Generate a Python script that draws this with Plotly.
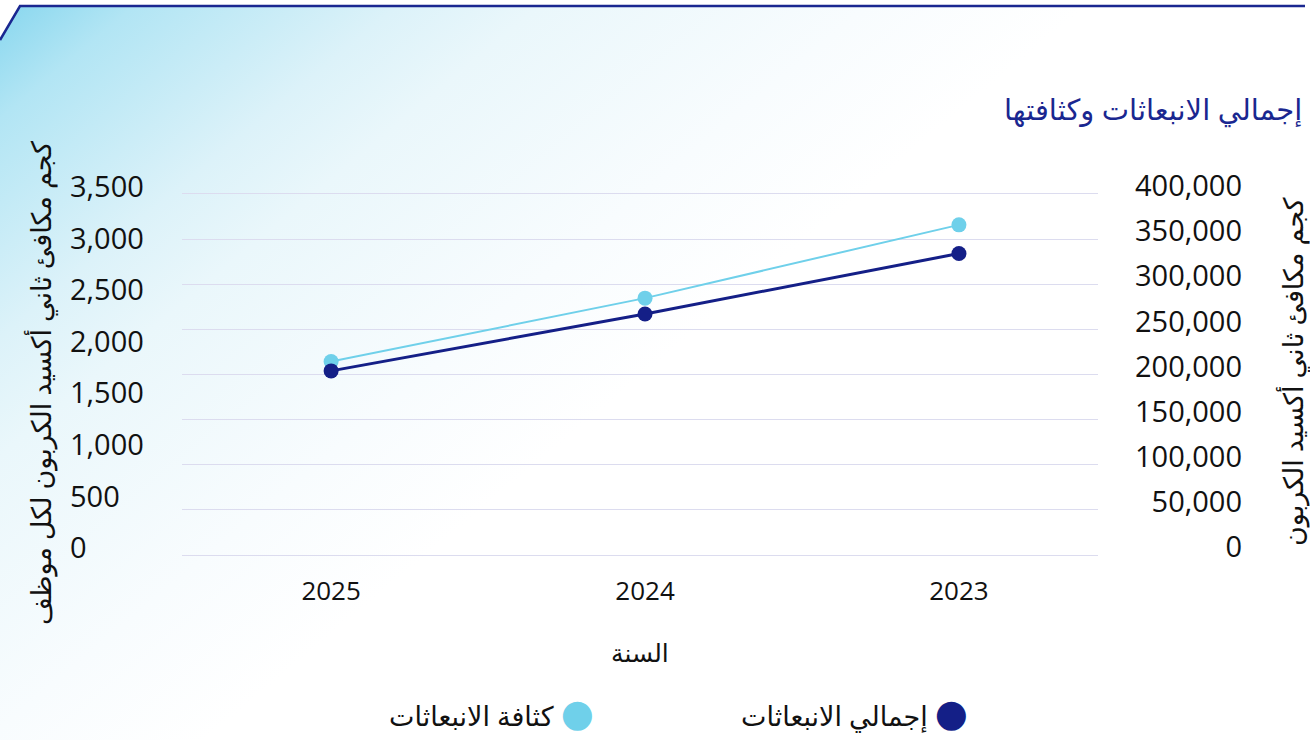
import base64
import plotly.graph_objects as go

# ---------------- data ----------------
years = ["2025", "2024", "2023"]
total_emissions = [204000, 267000, 334000]      # right axis (kg CO2e)
emission_intensity = [1875, 2490, 3200]         # left axis (kg CO2e per employee)

left_ticks = [0, 500, 1000, 1500, 2000, 2500, 3000, 3500]
right_ticks = [0, 50000, 100000, 150000, 200000, 250000, 300000, 350000, 400000]

name_total = "إجمالي الانبعاثات"
name_intensity = "كثافة الانبعاثات"
title_text = "إجمالي الانبعاثات وكثافتها"
x_title = "السنة"
left_title = "كجم مكافئ ثاني أكسيد الكربون لكل موظف"
right_title = "كجم مكافئ ثاني أكسيد الكربون"

# ---------------- style ----------------
W, H = 1310, 740
NAVY = "#141f87"
LIGHT = "#6fd0ea"
GRID = "#dcdcef"
FONT = "Open Sans, Noto Sans, DejaVu Sans, sans-serif"

x0, x1 = 182, 1098          # plot area px (horizontal)
plot_bottom = 555           # px of the zero gridline
dom_top, dom_bot = 148.75, 600.25   # y-domain px (one grid step beyond 193..555)

svg = f"""<svg xmlns='http://www.w3.org/2000/svg' width='{W}' height='{H}' viewBox='0 0 {W} {H}'>
<defs><linearGradient id='g' gradientUnits='userSpaceOnUse' x1='0' y1='0' x2='448' y2='538'>
<stop offset='0' stop-color='#86d6ee'/>
<stop offset='0.13' stop-color='#b2e5f4'/>
<stop offset='0.37' stop-color='#dcf2f9'/>
<stop offset='0.5' stop-color='#eaf7fb'/>
<stop offset='0.8' stop-color='#f8fcfe'/>
<stop offset='1' stop-color='#ffffff'/>
</linearGradient></defs>
<path d='M0,40 L20,6 L{W},6 L{W},{H} L0,{H} Z' fill='url(#g)'/>
<path d='M0,40 L20,6 L1305,6' fill='none' stroke='#1a2790' stroke-width='2.5'/>
</svg>"""
src = "data:image/svg+xml;base64," + base64.b64encode(svg.encode()).decode()

fig = go.Figure()
fig.add_trace(go.Scatter(
    x=years, y=emission_intensity, name=name_intensity, yaxis="y",
    mode="lines+markers", line=dict(color=LIGHT, width=2),
    marker=dict(color=LIGHT, size=15), showlegend=False,
))
fig.add_trace(go.Scatter(
    x=years, y=total_emissions, name=name_total, yaxis="y2",
    mode="lines+markers", line=dict(color=NAVY, width=3),
    marker=dict(color=NAVY, size=15), showlegend=False,
))

xtickfont = dict(family=FONT, size=26, color="#111111")
ytickfont = dict(family=FONT, size=29, color="#111111")

fig.update_layout(
    width=W, height=H,
    margin=dict(l=0, r=0, t=0, b=0),
    paper_bgcolor="white",
    plot_bgcolor="rgba(0,0,0,0)",
    images=[dict(source=src, xref="paper", yref="paper", x=0, y=1, sizex=1, sizey=1,
                 xanchor="left", yanchor="top", sizing="stretch", layer="below")],
    xaxis=dict(
        type="category", categoryorder="array", categoryarray=years,
        domain=[x0 / W, x1 / W], range=[-0.475, 2.443],
        anchor="free", position=(H - plot_bottom) / H,
        showgrid=False, showline=False, zeroline=False, ticks="",
        tickfont=xtickfont, ticklabelstandoff=18,
    ),
    yaxis=dict(
        domain=[(H - dom_bot) / H, (H - dom_top) / H],
        range=[-437.5, 3937.5], tickvals=left_ticks, tickformat=",d",
        anchor="free", position=66 / W, side="left",
        ticklabelposition="inside", ticklabelshift=-7,
        showgrid=False, showline=False, zeroline=False, ticks="",
        tickfont=ytickfont,
    ),
    yaxis2=dict(
        range=[-50000, 450000], tickvals=right_ticks, tickformat=",d",
        overlaying="y", anchor="free", position=1245 / W, side="right",
        ticklabelposition="inside", ticklabelshift=-8,
        showgrid=True, gridcolor=GRID, gridwidth=1,
        showline=False, zeroline=False, ticks="",
        tickfont=ytickfont,
    ),
    annotations=[
        dict(text=title_text, xref="paper", yref="paper", x=1304 / W, y=1 - 108 / H,
             xanchor="right", yanchor="middle", showarrow=False,
             font=dict(family=FONT, size=29, color="#1a2790")),
        dict(text=x_title, xref="paper", yref="paper", x=640 / W, y=1 - 652 / H,
             xanchor="center", yanchor="middle", showarrow=False,
             font=dict(family=FONT, size=25, color="#111111")),
        dict(text=left_title, xref="paper", yref="paper", x=40 / W, y=1 - 383 / H,
             xanchor="center", yanchor="middle", showarrow=False, textangle=-90,
             font=dict(family=FONT, size=27, color="#111111")),
        dict(text=right_title, xref="paper", yref="paper", x=1292 / W, y=1 - 372 / H,
             xanchor="center", yanchor="middle", showarrow=False, textangle=-90,
             font=dict(family=FONT, size=27, color="#111111")),
        dict(text=f'{name_total} <span style="color:{NAVY};font-size:38px">●</span>',
             xref="paper", yref="paper", x=970 / W, y=1 - 711 / H,
             xanchor="right", yanchor="middle", showarrow=False,
             font=dict(family=FONT, size=27, color="#111111")),
        dict(text=f'{name_intensity} <span style="color:{LIGHT};font-size:38px">●</span>',
             xref="paper", yref="paper", x=596 / W, y=1 - 711 / H,
             xanchor="right", yanchor="middle", showarrow=False,
             font=dict(family=FONT, size=27, color="#111111")),
    ],
)

fig.write_html("out.html", config={"displayModeBar": False},
               post_script="document.body.style.margin='0';")
